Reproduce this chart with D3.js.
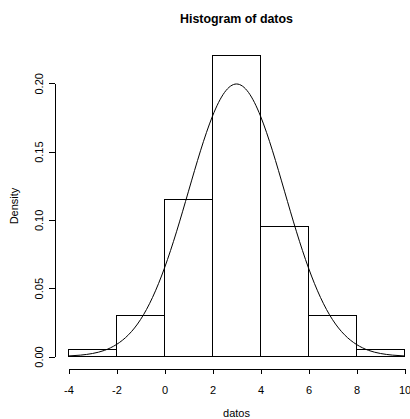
<!DOCTYPE html>
<html>
<head>
<meta charset="utf-8">
<script src="https://cdn.jsdelivr.net/npm/d3@7"></script>
<style>
  body { margin: 0; background: #fff; }
  svg { display: block; font-family: "Liberation Sans", Arial, sans-serif; }
  .bar, .domain, .tick line { shape-rendering: crispEdges; }
</style>
</head>
<body>
<div id="chart"></div>
<script>
// histogram bins (breaks) and densities
const binStart = [-4, -2, 0, 2, 4, 6, 8];
const binEnd = [-2, 0, 2, 4, 6, 8, 10];
const density = [0.005, 0.03, 0.115, 0.22, 0.095, 0.03, 0.005];

// fitted curve
const curveX = [-4, -3.5, -3, -2.5, -2, -1.5, -1, -0.5, 0, 0.5, 1, 1.5, 2, 2.5, 3,
    3.5, 4, 4.5, 5, 5.5, 6, 6.5, 7, 7.5, 8, 8.5, 9, 9.5, 10];
const curveY = [0.0004, 0.001, 0.0022, 0.0045, 0.0088, 0.0159, 0.027, 0.0432, 0.0648, 0.0913, 0.121, 0.1506, 0.176, 0.1933, 0.1995,
    0.1933, 0.176, 0.1506, 0.121, 0.0913, 0.0648, 0.0432, 0.027, 0.0159, 0.0088, 0.0045, 0.0022, 0.001, 0.0004];

const xTicks = [-4, -2, 0, 2, 4, 6, 8, 10];
const yTicks = [0, 0.05, 0.10, 0.15, 0.20];

const W = 410, H = 419;

const svg = d3.select("#chart").append("svg")
    .attr("width", W)
    .attr("height", H);

const x = d3.scaleLinear().domain([-4, 10]).range([68.5, 404.5]);
const y = d3.scaleLinear().domain([0, 0.20]).range([356.5, 83.3]);

// title
svg.append("text")
    .attr("x", 236.5)
    .attr("y", 19)
    .attr("text-anchor", "middle")
    .attr("dominant-baseline", "central")
    .attr("font-size", "12.4px")
    .attr("font-weight", "bold")
    .attr("fill", "#000")
    .text("Histogram of datos");

// bars
svg.selectAll(".bar")
    .data(density)
    .enter().append("rect")
    .attr("class", "bar")
    .attr("x", (d, i) => x(binStart[i]))
    .attr("width", (d, i) => x(binEnd[i]) - x(binStart[i]))
    .attr("y", d => y(d))
    .attr("height", d => y(0) - y(d))
    .attr("fill", "#fff")
    .attr("stroke", "#000")
    .attr("stroke-width", 1);

// density curve
const line = d3.line()
    .x((d, i) => x(curveX[i]))
    .y(d => y(d))
    .curve(d3.curveNatural);

svg.append("path")
    .datum(curveY)
    .attr("fill", "none")
    .attr("stroke", "#000")
    .attr("stroke-width", 1)
    .attr("d", line);

// x axis
const gx = svg.append("g")
    .attr("transform", "translate(0,369)")
    .call(d3.axisBottom(x).tickValues(xTicks).tickSize(5).tickSizeOuter(0).tickFormat(d3.format("d")));
gx.selectAll("text")
    .attr("y", 0)
    .attr("dy", 0)
    .attr("transform", "translate(0,21)")
    .attr("dominant-baseline", "central")
    .attr("font-size", "11px")
    .attr("font-family", "Liberation Sans, Arial, sans-serif")
    .attr("fill", "#000");
gx.selectAll("text").text(d => d < 0 ? "-" + Math.abs(d) : d);

// y axis
const gy = svg.append("g")
    .attr("transform", "translate(55,0)")
    .call(d3.axisLeft(y).tickValues(yTicks).tickSize(6).tickSizeOuter(0).tickFormat(d3.format(".2f")));
gy.selectAll("text")
    .attr("x", 0)
    .attr("y", -16)
    .attr("dy", 0)
    .attr("transform", "rotate(-90)")
    .attr("text-anchor", "middle")
    .attr("dominant-baseline", "central")
    .attr("font-size", "11px")
    .attr("font-family", "Liberation Sans, Arial, sans-serif")
    .attr("fill", "#000");

// axis titles
svg.append("text")
    .attr("x", 236.5)
    .attr("y", 413)
    .attr("text-anchor", "middle")
    .attr("dominant-baseline", "central")
    .attr("font-size", "11px")
    .attr("fill", "#000")
    .text("datos");

svg.append("text")
    .attr("transform", "translate(14,206) rotate(-90)")
    .attr("text-anchor", "middle")
    .attr("dominant-baseline", "central")
    .attr("font-size", "11px")
    .attr("fill", "#000")
    .text("Density");
</script>
</body>
</html>
